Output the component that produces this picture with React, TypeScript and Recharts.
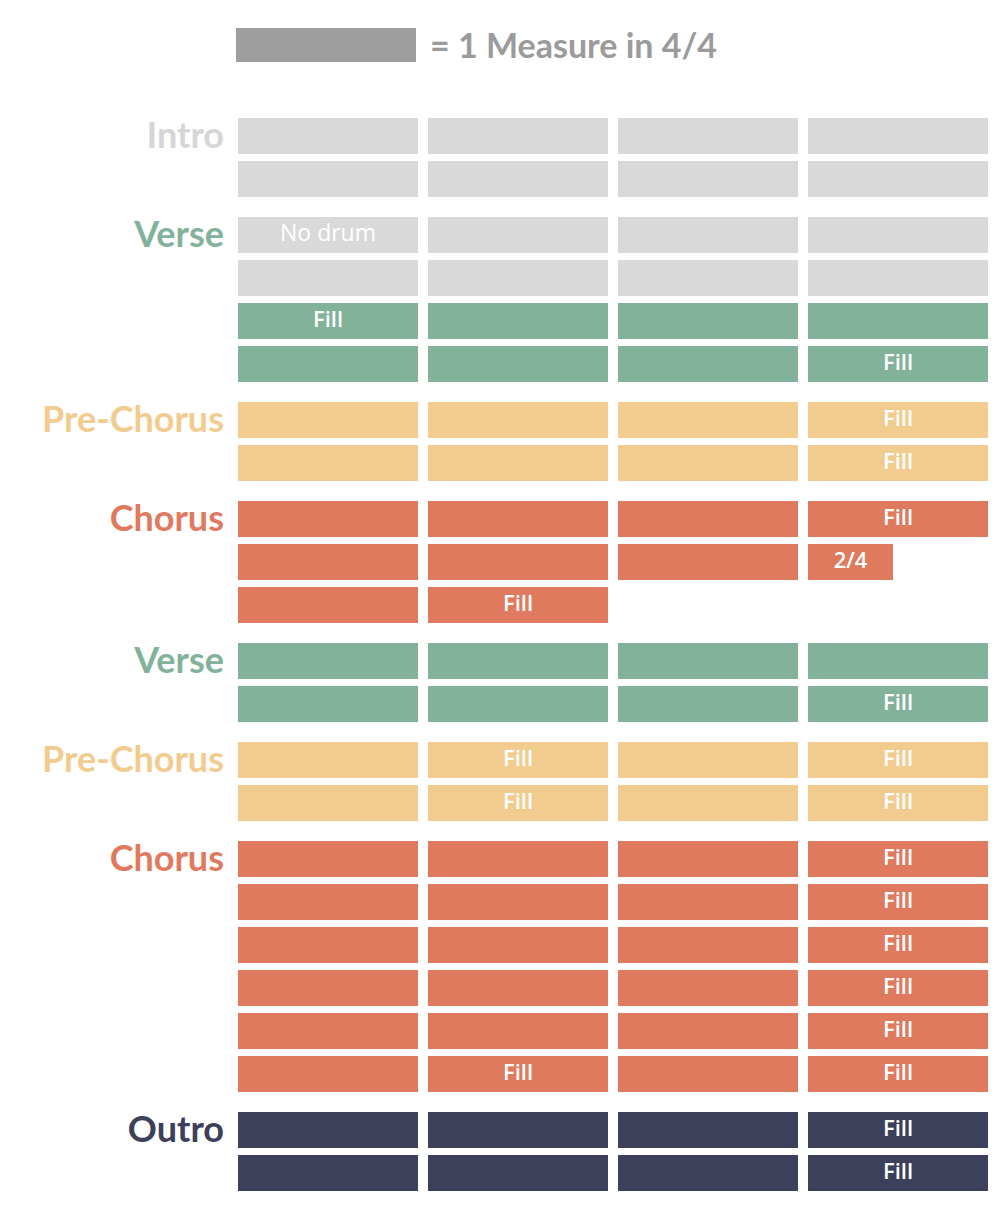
import React from 'react';
import { BarChart, Bar, XAxis, YAxis, LabelList } from 'recharts';

// song structure: one chart per section, one row per 4 measures
const sectionNames = ['Intro', 'Verse', 'Pre-Chorus', 'Chorus', 'Verse', 'Pre-Chorus', 'Chorus', 'Outro'];
const sectionKinds = ['intro', 'verse', 'pre', 'chorus', 'verse', 'pre', 'chorus', 'outro'];

// kind of each row (sets the colour)
const rowKinds = [
  ['intro', 'intro'],
  ['intro', 'intro', 'verse', 'verse'],
  ['pre', 'pre'],
  ['chorus', 'chorus', 'chorus'],
  ['verse', 'verse'],
  ['pre', 'pre'],
  ['chorus', 'chorus', 'chorus', 'chorus', 'chorus', 'chorus'],
  ['outro', 'outro'],
];

// beats in each measure of each row
const rowBeats = [
  [[4, 4, 4, 4], [4, 4, 4, 4]],
  [[4, 4, 4, 4], [4, 4, 4, 4], [4, 4, 4, 4], [4, 4, 4, 4]],
  [[4, 4, 4, 4], [4, 4, 4, 4]],
  [[4, 4, 4, 4], [4, 4, 4, 2], [4, 4, 0, 0]],
  [[4, 4, 4, 4], [4, 4, 4, 4]],
  [[4, 4, 4, 4], [4, 4, 4, 4]],
  [[4, 4, 4, 4], [4, 4, 4, 4], [4, 4, 4, 4], [4, 4, 4, 4], [4, 4, 4, 4], [4, 4, 4, 4]],
  [[4, 4, 4, 4], [4, 4, 4, 4]],
];

// text written in each measure
const rowNotes = [
  [['', '', '', ''], ['', '', '', '']],
  [['No drum', '', '', ''], ['', '', '', ''], ['Fill', '', '', ''], ['', '', '', 'Fill']],
  [['', '', '', 'Fill'], ['', '', '', 'Fill']],
  [['', '', '', 'Fill'], ['', '', '', '2/4'], ['', 'Fill', '', '']],
  [['', '', '', ''], ['', '', '', 'Fill']],
  [['', 'Fill', '', 'Fill'], ['', 'Fill', '', 'Fill']],
  [['', '', '', 'Fill'], ['', '', '', 'Fill'], ['', '', '', 'Fill'], ['', '', '', 'Fill'], ['', '', '', 'Fill'], ['', 'Fill', '', 'Fill']],
  [['', '', '', 'Fill'], ['', '', '', 'Fill']],
];

const palette: Record<string, string> = {
  intro: '#d9d9d9',
  verse: '#82b29a',
  pre: '#f2cc8f',
  chorus: '#e07a5f',
  outro: '#3d405b',
};
const labelColors: Record<string, string> = {
  intro: '#d6d6d6',
  verse: '#82b29a',
  pre: '#f2cc8f',
  chorus: '#e07a5f',
  outro: '#3d405b',
};

const BAND = 43;
const GAP = 10; // white space between measures
const PAD = 8; // room above the first row for the section title

const MeasureShape = (props: any) => {
  const { x, y, width, height, payload } = props;
  if (!width || width <= GAP) return null;
  return <rect x={x} y={y} width={width - GAP} height={height} fill={palette[payload.kind]} />;
};

const NoteLabel = (props: any) => {
  const { x, y, width, height, value } = props;
  if (!value || !width) return null;
  const light = value === 'No drum';
  return (
    <text
      x={x + (width - GAP) / 2}
      y={y + height / 2 + 6}
      textAnchor="middle"
      fill="#ffffff"
      fontFamily="'Open Sans', sans-serif"
      fontWeight={light ? 400 : 600}
      fontSize={light ? 23 : 22}
    >
      {value}
    </text>
  );
};

const Section = ({ s }: { s: number }) => {
  const data = rowBeats[s].map((beats, r) => ({
    row: `r${r}`,
    kind: rowKinds[s][r],
    b0: beats[0], b1: beats[1], b2: beats[2], b3: beats[3],
    n0: rowNotes[s][r][0], n1: rowNotes[s][r][1], n2: rowNotes[s][r][2], n3: rowNotes[s][r][3],
  }));
  return (
    <BarChart
      width={990}
      height={data.length * BAND + PAD}
      data={data}
      layout="vertical"
      margin={{ top: PAD, right: 0, bottom: 0, left: 0 }}
      style={{ marginBottom: 13 - PAD }}
    >
      <XAxis type="number" domain={[0, 16]} hide />
      <YAxis
        type="category"
        dataKey="row"
        width={230}
        axisLine={false}
        tickLine={false}
        tickSize={0}
        tickMargin={14}
        interval={0}
        tickFormatter={(v: string) => (v === 'r0' ? sectionNames[s] : '')}
        tick={{ fill: labelColors[sectionKinds[s]], fontSize: 36, fontWeight: 700, fontFamily: 'Lato, sans-serif' }}
      />
      {[0, 1, 2, 3].map((m) => (
        <Bar key={m} dataKey={`b${m}`} stackId="measures" barSize={36} shape={<MeasureShape />} isAnimationActive={false}>
          <LabelList dataKey={`n${m}`} content={<NoteLabel />} />
        </Bar>
      ))}
    </BarChart>
  );
};

export default function App() {
  return (
    <div style={{ position: 'relative', width: 994, height: 1196, background: '#fff' }}>
      <div style={{ position: 'absolute', left: 228, top: 20, display: 'flex', alignItems: 'center' }}>
        <div style={{ width: 180, height: 34, background: '#9e9e9e' }} />
        <span
          style={{
            marginLeft: 14,
            color: '#9b9b9b',
            fontFamily: 'Lato, sans-serif',
            fontWeight: 700,
            fontSize: 34,
            lineHeight: '34px',
          }}
        >
          = 1 Measure in 4/4
        </span>
      </div>
      <div style={{ position: 'absolute', left: 0, top: 106 - PAD }}>
        {sectionNames.map((_, s) => (
          <Section key={s} s={s} />
        ))}
      </div>
    </div>
  );
}
